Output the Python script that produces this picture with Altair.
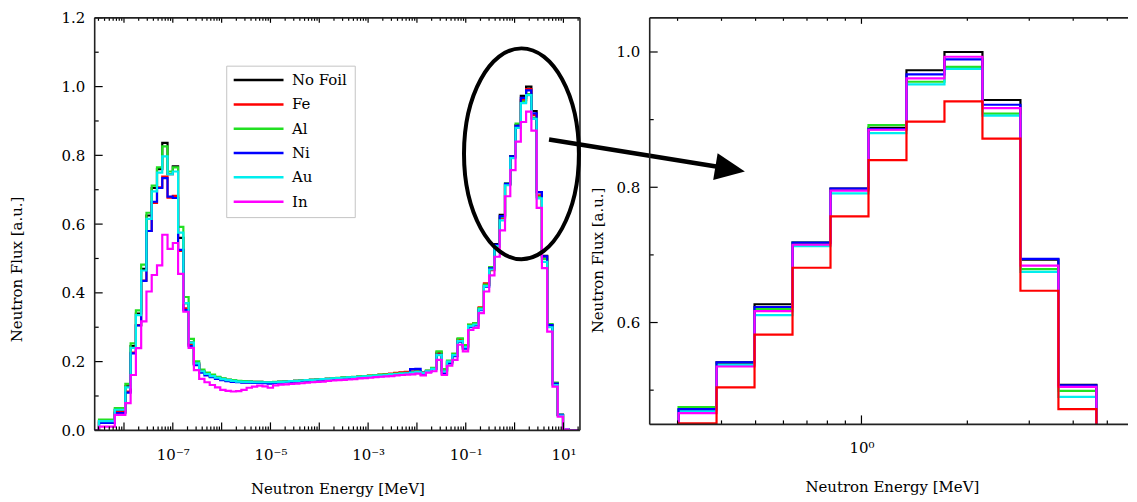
import altair as alt
import pandas as pd

SERIES = ["No Foil", "Fe", "Al", "Ni", "Au", "In"]
COLORS = ["#000000", "#ff0000", "#22e022", "#0000ff", "#00eeee", "#ff00ff"]

# histogram bins are log-uniform; first edge (log10 MeV) and width
LEFT_FIRST_EDGE = -8.62
RIGHT_FIRST_EDGE = -0.628
BIN_DEC = 0.108

# ---- left panel (full spectrum), one value per bin ----
NOFOIL_L = [0.000, 0.028, 0.028, 0.028, 0.060, 0.060,
            0.128, 0.245, 0.340, 0.470, 0.625, 0.705, 0.760, 0.836, 0.745, 0.768,
            0.560, 0.370, 0.255, 0.195, 0.172, 0.165, 0.159, 0.154, 0.150, 0.147,
            0.145, 0.143, 0.142, 0.142, 0.141, 0.141, 0.140, 0.140, 0.140, 0.141,
            0.142, 0.143, 0.144, 0.145, 0.146, 0.147, 0.148, 0.149, 0.150, 0.151,
            0.152, 0.153, 0.154, 0.155, 0.156, 0.157, 0.158, 0.160, 0.161, 0.162,
            0.164, 0.166, 0.167, 0.168, 0.170, 0.172, 0.168, 0.173, 0.180, 0.226,
            0.175, 0.200, 0.220, 0.265, 0.245, 0.305, 0.310, 0.355, 0.423, 0.472,
            0.542, 0.627, 0.718, 0.798, 0.888, 0.973, 1.000, 0.929, 0.693, 0.508,
            0.307, 0.137, 0.045, 0.004, 0.000, 0.000]
FE_L = [0.000, 0.025, 0.025, 0.025, 0.053, 0.053,
        0.113, 0.226, 0.306, 0.436, 0.580, 0.662, 0.707, 0.738, 0.677, 0.682,
        0.522, 0.355, 0.250, 0.193, 0.171, 0.164, 0.157, 0.151, 0.147, 0.144,
        0.142, 0.141, 0.140, 0.140, 0.140, 0.139, 0.139, 0.139, 0.140, 0.141,
        0.142, 0.143, 0.144, 0.145, 0.146, 0.147, 0.148, 0.149, 0.150, 0.151,
        0.152, 0.153, 0.154, 0.155, 0.156, 0.157, 0.159, 0.160, 0.162, 0.163,
        0.165, 0.167, 0.169, 0.170, 0.171, 0.172, 0.168, 0.172, 0.180, 0.224,
        0.172, 0.199, 0.219, 0.264, 0.242, 0.307, 0.312, 0.358, 0.428, 0.466,
        0.535, 0.617, 0.714, 0.795, 0.885, 0.961, 0.993, 0.917, 0.684, 0.505,
        0.305, 0.135, 0.044, 0.004, 0.000, 0.000]
AL_L = [0.000, 0.031, 0.031, 0.031, 0.065, 0.065,
        0.135, 0.253, 0.349, 0.482, 0.633, 0.712, 0.765, 0.826, 0.753, 0.765,
        0.592, 0.388, 0.266, 0.201, 0.177, 0.168, 0.162, 0.156, 0.151, 0.148,
        0.146, 0.144, 0.143, 0.142, 0.141, 0.141, 0.140, 0.140, 0.141, 0.142,
        0.142, 0.143, 0.144, 0.145, 0.146, 0.147, 0.148, 0.149, 0.150, 0.152,
        0.153, 0.154, 0.155, 0.156, 0.157, 0.158, 0.159, 0.161, 0.162, 0.163,
        0.164, 0.165, 0.166, 0.167, 0.169, 0.171, 0.167, 0.174, 0.182, 0.230,
        0.178, 0.203, 0.223, 0.268, 0.248, 0.308, 0.312, 0.356, 0.424, 0.475,
        0.538, 0.620, 0.718, 0.796, 0.892, 0.956, 0.978, 0.909, 0.679, 0.499,
        0.309, 0.139, 0.046, 0.004, 0.000, 0.000]
NI_L = [0.000, 0.022, 0.022, 0.022, 0.050, 0.050,
        0.110, 0.224, 0.305, 0.435, 0.580, 0.665, 0.705, 0.734, 0.680, 0.676,
        0.525, 0.350, 0.245, 0.190, 0.168, 0.160, 0.155, 0.150, 0.146, 0.143,
        0.141, 0.140, 0.139, 0.139, 0.138, 0.138, 0.137, 0.136, 0.138, 0.139,
        0.140, 0.141, 0.142, 0.143, 0.144, 0.145, 0.146, 0.147, 0.148, 0.149,
        0.150, 0.151, 0.152, 0.153, 0.154, 0.155, 0.156, 0.157, 0.158, 0.159,
        0.160, 0.161, 0.162, 0.165, 0.178, 0.179, 0.163, 0.170, 0.178, 0.220,
        0.165, 0.195, 0.216, 0.258, 0.238, 0.300, 0.305, 0.350, 0.418, 0.471,
        0.540, 0.623, 0.717, 0.797, 0.886, 0.967, 0.989, 0.922, 0.693, 0.506,
        0.306, 0.136, 0.045, 0.004, 0.000, 0.000]
AU_L = [0.000, 0.027, 0.027, 0.027, 0.060, 0.060,
        0.125, 0.240, 0.335, 0.465, 0.615, 0.695, 0.750, 0.797, 0.745, 0.753,
        0.575, 0.370, 0.255, 0.195, 0.172, 0.164, 0.158, 0.153, 0.149, 0.146,
        0.144, 0.142, 0.141, 0.141, 0.140, 0.140, 0.140, 0.140, 0.140, 0.141,
        0.142, 0.143, 0.144, 0.145, 0.146, 0.147, 0.148, 0.149, 0.150, 0.151,
        0.152, 0.153, 0.154, 0.155, 0.156, 0.157, 0.158, 0.159, 0.160, 0.161,
        0.163, 0.164, 0.165, 0.166, 0.168, 0.170, 0.167, 0.172, 0.179, 0.219,
        0.172, 0.200, 0.219, 0.260, 0.242, 0.303, 0.308, 0.352, 0.420, 0.468,
        0.536, 0.611, 0.713, 0.792, 0.880, 0.952, 0.975, 0.906, 0.675, 0.490,
        0.300, 0.132, 0.043, 0.004, 0.000, 0.000]
IN_L = [0.000, 0.011, 0.011, 0.011, 0.045, 0.045,
        0.079, 0.161, 0.239, 0.317, 0.404, 0.452, 0.480, 0.569, 0.528, 0.545,
        0.455, 0.345, 0.240, 0.175, 0.150, 0.140, 0.132, 0.125, 0.118, 0.115,
        0.113, 0.114, 0.118, 0.124, 0.127, 0.130, 0.128, 0.124, 0.131, 0.133,
        0.134, 0.135, 0.136, 0.137, 0.139, 0.140, 0.141, 0.142, 0.144, 0.145,
        0.146, 0.147, 0.148, 0.149, 0.151, 0.152, 0.153, 0.155, 0.156, 0.157,
        0.158, 0.160, 0.161, 0.162, 0.163, 0.165, 0.160, 0.168, 0.172, 0.205,
        0.161, 0.188, 0.205, 0.249, 0.230, 0.292, 0.298, 0.341, 0.404, 0.451,
        0.505, 0.582, 0.681, 0.757, 0.840, 0.897, 0.927, 0.872, 0.647, 0.472,
        0.287, 0.127, 0.040, 0.003, 0.000, 0.000]

# ---- right panel (zoom on the fast peak), as drawn ----
NOFOIL_R = [0.423, 0.471, 0.541, 0.627, 0.718, 0.798, 0.888, 0.973, 1.000, 0.929, 0.693, 0.508, 0.307]
FE_R = [0.404, 0.451, 0.504, 0.582, 0.681, 0.757, 0.840, 0.897, 0.927, 0.872, 0.647, 0.472, 0.287]
AL_R = [0.424, 0.475, 0.538, 0.620, 0.718, 0.796, 0.892, 0.956, 0.978, 0.909, 0.679, 0.499, 0.309]
NI_R = [0.418, 0.472, 0.541, 0.623, 0.718, 0.798, 0.886, 0.967, 0.989, 0.922, 0.694, 0.507, 0.306]
AU_R = [0.420, 0.469, 0.537, 0.611, 0.713, 0.791, 0.880, 0.952, 0.975, 0.906, 0.675, 0.490, 0.300]
IN_R = [0.428, 0.466, 0.535, 0.617, 0.715, 0.795, 0.885, 0.961, 0.993, 0.917, 0.684, 0.505, 0.305]

LEFT_X_LABELS = [1e-7, 1e-5, 1e-3, 1e-1, 1e1]
LEFT_Y_MAJOR = [0.0, 0.2, 0.4, 0.6, 0.8, 1.0, 1.2]
LEFT_Y_MINOR = [0.1, 0.3, 0.5, 0.7, 0.9, 1.1]
RIGHT_X_MAJOR = [1.0]
RIGHT_X_MINOR = [0.3, 0.4, 0.5, 0.6, 0.7, 0.8, 0.9, 2.0, 3.0, 4.0, 5.0]
RIGHT_Y_MAJOR = [0.6, 0.8, 1.0]
RIGHT_Y_MINOR = [0.5, 0.7, 0.9]

# annotation: ellipse around the fast peak and arrow to the zoom panel (left-panel data coords)
ELLIPSE = {"E": 1.383, "flux": 0.8045}
ARROW_LINE = {"E": 5.08, "flux": 0.846, "E2": 14500.0, "flux2": 0.767}
ARROW_HEAD = {"E": 26000.0, "flux": 0.760}

FONT = "DejaVu Serif"
LW, LH = 487, 414
RW, RH = 480, 408
LX_DOM = [10 ** -8.6, 10 ** 1.339]
RX_DOM = [0.25, 5.726]
LY_DOM = [0.0, 1.2]
RY_DOM = [0.4494, 1.0505]


def hist_frame(arrays, first_edge):
    rows = []
    for name, vals in zip(SERIES, arrays):
        for i, v in enumerate(vals):
            rows.append({"series": name, "E": 10 ** (first_edge + i * BIN_DEC), "flux": v})
        rows.append({"series": name, "E": 10 ** (first_edge + len(vals) * BIN_DEC), "flux": vals[-1]})
    return pd.DataFrame(rows)


left_df = hist_frame([NOFOIL_L, FE_L, AL_L, NI_L, AU_L, IN_L], LEFT_FIRST_EDGE)
right_df = hist_frame([NOFOIL_R, FE_R, AL_R, NI_R, AU_R, IN_R], RIGHT_FIRST_EDGE)

color_scale = alt.Scale(domain=SERIES, range=COLORS)

LEGEND_LINE = "M -5 0 L 5 0"
legend = alt.Legend(orient="none", legendX=132, legendY=48, title=None,
                    symbolType=LEGEND_LINE, symbolSize=100, symbolStrokeWidth=2.5,
                    symbolOffset=18,
                    labelFont=FONT, labelFontSize=15, labelColor="black",
                    strokeColor="#c4c4c4", fillColor="white", padding=7,
                    rowPadding=8.4, labelOffset=26)

lx_scale = alt.Scale(type="log", domain=LX_DOM, nice=False)
ly_scale = alt.Scale(domain=LY_DOM, nice=False, zero=False)
rx_scale = alt.Scale(type="log", domain=RX_DOM, nice=False)
ry_scale = alt.Scale(domain=RY_DOM, nice=False, zero=False)

lx_axis = alt.Axis(values=LEFT_X_LABELS, grid=False, ticks=False, domain=False, labels=True,
                   labelExpr="datum.value < 1e-6 ? '10⁻⁷' : datum.value < 1e-4 ? '10⁻⁵' : "
                             "datum.value < 1e-2 ? '10⁻³' : datum.value < 1 ? '10⁻¹' : '10¹'",
                   labelFont=FONT, labelFontSize=15, labelColor="black", labelPadding=17,
                   labelFlush=False,
                   title="Neutron Energy [MeV]", titleFont=FONT, titleFontSize=15,
                   titleFontWeight="normal", titleColor="black",
                   titleX=LW / 2, titleY=58, titleBaseline="middle")
ly_axis = alt.Axis(values=LEFT_Y_MAJOR, format=".1f", grid=False, ticks=False, labels=True,
                   domain=False, labelFont=FONT, labelFontSize=15, labelColor="black",
                   labelPadding=10, title="Neutron Flux [a.u.]", titleFont=FONT,
                   titleFontSize=15, titleFontWeight="normal", titleColor="black",
                   titleX=-78, titleY=252, titleBaseline="middle", titleAngle=270)
rx_axis = alt.Axis(values=RIGHT_X_MAJOR, grid=False, ticks=False, domain=False, labels=True,
                   labelExpr="'10⁰'", labelFont=FONT, labelFontSize=15, labelColor="black",
                   labelPadding=16, labelFlush=False,
                   title="Neutron Energy [MeV]", titleFont=FONT, titleFontSize=15,
                   titleFontWeight="normal", titleColor="black",
                   titleX=243, titleY=62, titleBaseline="middle")
ry_axis = alt.Axis(values=RIGHT_Y_MAJOR, format=".1f", grid=False, ticks=False, labels=True,
                   domain=False, labelFont=FONT, labelFontSize=15, labelColor="black",
                   labelPadding=10, title="Neutron Flux [a.u.]", titleFont=FONT,
                   titleFontSize=15, titleFontWeight="normal", titleColor="black",
                   titleX=-52, titleY=243, titleBaseline="middle", titleAngle=270)


def step_layers(df, order, xs, ys, xa, ya, leg):
    layers = []
    for s in order:
        layers.append(
            alt.Chart(df).transform_filter(alt.datum.series == s)
            .mark_line(interpolate="step-after", strokeWidth=2.2, clip=True)
            .encode(x=alt.X("E:Q", scale=xs, axis=xa),
                    y=alt.Y("flux:Q", scale=ys, axis=ya),
                    color=alt.Color("series:N", scale=color_scale, legend=leg))
        )
    return layers


def x_ticks(vals, xs, xa, H, length, top):
    df = pd.DataFrame({"E": vals})
    if top:
        enc = dict(y=alt.value(0), y2=alt.value(length))
    else:
        enc = dict(y=alt.value(H), y2=alt.value(H - length))
    return alt.Chart(df).mark_rule(color="black", strokeWidth=1.2).encode(
        x=alt.X("E:Q", scale=xs, axis=xa), **enc)


def y_ticks(vals, ys, ya, length):
    df = pd.DataFrame({"flux": vals})
    return alt.Chart(df).mark_rule(color="black", strokeWidth=1.2).encode(
        y=alt.Y("flux:Q", scale=ys, axis=ya), x=alt.value(0), x2=alt.value(length))


one = pd.DataFrame({"a": [0]})


def hline(y, x1, x2):
    return alt.Chart(one).mark_rule(color="#222222", strokeWidth=1.6).encode(
        x=alt.value(x1), x2=alt.value(x2), y=alt.value(y))


def vline(x, y1, y2):
    return alt.Chart(one).mark_rule(color="#222222", strokeWidth=1.6).encode(
        y=alt.value(y1), y2=alt.value(y2), x=alt.value(x))


def decade_ticks(lo, hi):
    major, minor = [], []
    for e in range(-10, 3):
        for m in range(1, 10):
            v = m * 10.0 ** e
            if lo <= v <= hi:
                (major if m == 1 else minor).append(v)
    return major, minor


l_major, l_minor = decade_ticks(LX_DOM[0], LX_DOM[1])

ELLIPSE_PATH = "M -0.545 0 A 0.545 1 0 1 1 0.545 0 A 0.545 1 0 1 1 -0.545 0 Z"
ARROW_PATH = "M -1 -0.9 L 1 0 L -1 0.9 Z"

ellipse = alt.Chart(pd.DataFrame([ELLIPSE])).mark_point(
    shape=ELLIPSE_PATH, size=44775, filled=False, color="black", strokeWidth=4, opacity=1
).encode(x=alt.X("E:Q", scale=lx_scale, axis=lx_axis), y=alt.Y("flux:Q", scale=ly_scale, axis=ly_axis))
arrow_line = alt.Chart(pd.DataFrame([ARROW_LINE])).mark_rule(color="black", strokeWidth=4.5).encode(
    x=alt.X("E:Q", scale=lx_scale, axis=lx_axis), x2="E2:Q",
    y=alt.Y("flux:Q", scale=ly_scale, axis=ly_axis), y2="flux2:Q")
arrow_head = alt.Chart(pd.DataFrame([ARROW_HEAD])).mark_point(
    shape=ARROW_PATH, size=900, filled=True, color="black", angle=9.5, opacity=1
).encode(x=alt.X("E:Q", scale=lx_scale, axis=lx_axis), y=alt.Y("flux:Q", scale=ly_scale, axis=ly_axis))

left = alt.layer(
    *step_layers(left_df, ["No Foil", "Fe", "Al", "Ni", "Au", "In"], lx_scale, ly_scale, lx_axis, ly_axis, legend),
    x_ticks(l_major, lx_scale, lx_axis, LH, 8, False), x_ticks(l_minor, lx_scale, lx_axis, LH, 4, False),
    x_ticks(l_major, lx_scale, lx_axis, LH, 5, True), x_ticks(l_minor, lx_scale, lx_axis, LH, 3, True),
    y_ticks(LEFT_Y_MAJOR, ly_scale, ly_axis, 8), y_ticks(LEFT_Y_MINOR, ly_scale, ly_axis, 4),
    hline(0, 0, LW), hline(LH, 0, LW), vline(0, 0, LH), vline(LW, 0, LH),
    ellipse, arrow_line, arrow_head,
).properties(width=LW, height=LH)

right = alt.layer(
    *step_layers(right_df, ["No Foil", "Al", "Au", "Ni", "In", "Fe"], rx_scale, ry_scale, rx_axis, ry_axis, None),
    x_ticks(RIGHT_X_MAJOR, rx_scale, rx_axis, RH, 9, False), x_ticks(RIGHT_X_MINOR, rx_scale, rx_axis, RH, 4, False),
    x_ticks(RIGHT_X_MAJOR, rx_scale, rx_axis, RH, 6, True), x_ticks(RIGHT_X_MINOR, rx_scale, rx_axis, RH, 3, True),
    y_ticks(RIGHT_Y_MAJOR, ry_scale, ry_axis, 8), y_ticks(RIGHT_Y_MINOR, ry_scale, ry_axis, 4),
    hline(0, 0, RW), hline(RH, 0, RW), vline(0, 0, RH),
).properties(width=RW, height=RH)

chart = (
    alt.hconcat(left, right, spacing=70, bounds="flush")
    .resolve_scale(color="independent")
    .properties(padding={"left": 2, "top": 2, "right": 0, "bottom": 0})
    .configure_view(strokeWidth=0)
)

chart.save("out.html", embed_options={"renderer": "svg", "actions": False})
